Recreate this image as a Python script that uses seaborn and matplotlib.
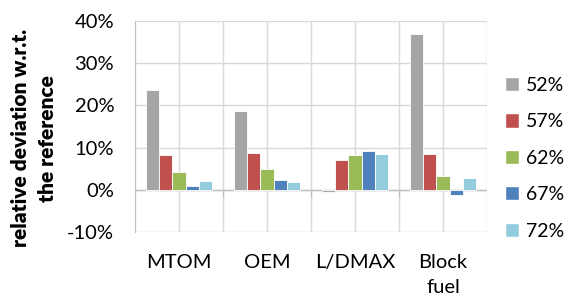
import matplotlib
matplotlib.use("Agg")
import matplotlib.pyplot as plt
import seaborn as sns
import pandas as pd
import numpy as np
from matplotlib.ticker import PercentFormatter
from matplotlib.patches import Patch

categories = ["MTOM", "OEM", "L/DMAX", "Block\nfuel"]
series = ["52%", "57%", "62%", "67%", "72%"]
values = {
    "52%": [23.6, 18.6, -0.6, 37.0],
    "57%": [8.3, 8.7, 7.1, 8.6],
    "62%": [4.2, 4.9, 8.3, 3.3],
    "67%": [1.0, 2.3, 9.3, -1.3],
    "72%": [2.0, 1.8, 8.4, 2.7],
}
colors = ["#A5A5A5", "#C0504D", "#9BBB59", "#4F81BD", "#93CDDD"]
yticks = [-10, 0, 10, 20, 30, 40]

rows = []
for s in series:
    for c, v in zip(categories, values[s]):
        rows.append({"category": c, "series": s, "value": v})
df = pd.DataFrame(rows)

sns.set_style("white")
plt.rcParams["font.family"] = ["Lato", "DejaVu Sans"]
plt.rcParams["axes.unicode_minus"] = False
plt.rcParams["text.color"] = "black"
plt.rcParams["xtick.color"] = "black"
plt.rcParams["ytick.color"] = "black"
plt.rcParams["axes.labelcolor"] = "black"

W, H = 568, 302
fig = plt.figure(figsize=(W / 100, H / 100), dpi=100)
ax = fig.add_axes([135 / W, (H - 232) / H, (487 - 135) / W, (232 - 21) / H])

sns.barplot(data=df, x="category", y="value", hue="series", order=categories,
            hue_order=series, palette=colors, width=0.76, ax=ax,
            edgecolor="white", linewidth=0.6, legend=False, saturation=1)

ax.set_ylim(-10, 40)
ax.set_xlim(-0.5, len(categories) - 0.5)
ax.set_yticks(yticks)
ax.yaxis.set_major_formatter(PercentFormatter(decimals=0))
ax.set_xticks(range(len(categories)))
ax.set_xticklabels(categories, fontsize=14.5, linespacing=1.55, va="top")
ax.tick_params(axis="y", labelsize=14.5, length=0, pad=15)
ax.tick_params(axis="x", length=0, pad=16)
ax.set_xlabel("")
ax.set_ylabel("relative deviation w.r.t.\nthe reference", fontsize=15,
              fontweight="heavy", linespacing=1.5)
ax.yaxis.set_label_coords(-0.222, 0.445)

ax.set_axisbelow(True)
for y in yticks:
    ax.axhline(y, color="#D9D9D9", lw=1, zorder=0)
xs = np.arange(-0.5, len(categories), 0.5)
for x in xs:
    ax.axvline(x, color="#D9D9D9", lw=1, zorder=0)
ax.axhline(0, color="#BFBFBF", lw=1, zorder=0.5)
ax.vlines(np.arange(len(categories) - 1) + 0.5, -1.7, 0, color="#BFBFBF", lw=1, zorder=0.5)

for side in ["top", "right", "bottom"]:
    ax.spines[side].set_visible(False)
ax.spines["left"].set_color("#BFBFBF")

handles = [Patch(facecolor=c, edgecolor="white") for c in colors]
fig.legend(handles, series, loc="upper left", bbox_to_anchor=(497 / W, 1 - 69 / H),
           frameon=False, fontsize=14, handlelength=0.75, handleheight=0.75,
           handletextpad=0.35, labelspacing=1.0, borderaxespad=0)

fig.savefig("out.png", dpi=100)
